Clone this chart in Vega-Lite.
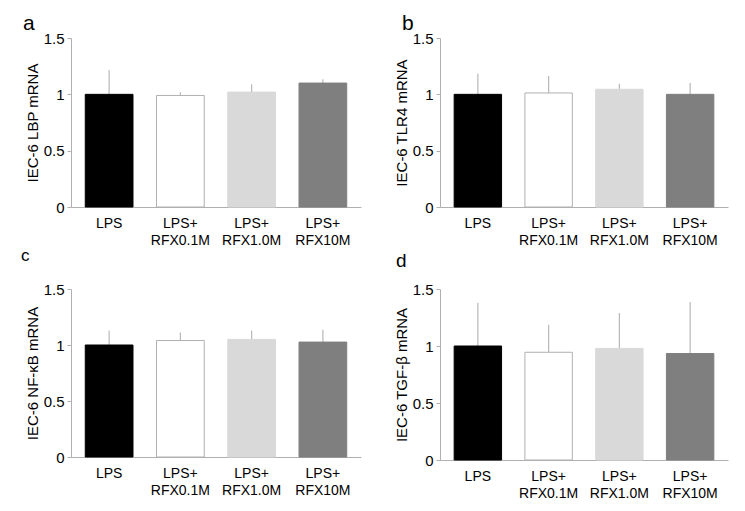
{
  "$schema": "https://vega.github.io/schema/vega-lite/v6.json",
  "padding": {"left": 21, "top": 13, "right": 5, "bottom": 5},
  "background": "white",
  "bounds": "flush",
  "spacing": {"row": 82, "column": 79},
  "config": {
    "font": "Liberation Sans",
    "view": {"stroke": null},
    "title": {"fontSize": 21, "fontWeight": "normal", "anchor": "start", "frame": "group", "color": "black", "offset": -3},
    "axisY": {"domainColor": "#b0b0b0", "tickColor": "#b0b0b0", "tickSize": 4, "labelFontSize": 15, "labelColor": "black", "titleFontSize": 15, "titleFontWeight": "normal", "titleColor": "black", "grid": false, "labelPadding": 3, "titlePadding": 3, "labelFlush": false},
    "axisX": {"domainColor": "#b0b0b0", "ticks": false, "labelFontSize": 14, "labelColor": "black", "labelAngle": 0, "labelPadding": 9, "title": null, "labelLineHeight": 17, "labelBaseline": "top"}
  },
  "datasets": {
    "a": [
      {"group": "LPS", "mean": 1.0, "upper": 1.213},
      {"group": "LPS+ RFX0.1M", "mean": 0.99, "upper": 1.019},
      {"group": "LPS+ RFX1.0M", "mean": 1.02, "upper": 1.09},
      {"group": "LPS+ RFX10M", "mean": 1.10, "upper": 1.134}
    ],
    "b": [
      {"group": "LPS", "mean": 1.0, "upper": 1.183},
      {"group": "LPS+ RFX0.1M", "mean": 1.012, "upper": 1.163},
      {"group": "LPS+ RFX1.0M", "mean": 1.045, "upper": 1.095},
      {"group": "LPS+ RFX10M", "mean": 1.0, "upper": 1.10}
    ],
    "c": [
      {"group": "LPS", "mean": 1.0, "upper": 1.13},
      {"group": "LPS+ RFX0.1M", "mean": 1.04, "upper": 1.112},
      {"group": "LPS+ RFX1.0M", "mean": 1.05, "upper": 1.13},
      {"group": "LPS+ RFX10M", "mean": 1.026, "upper": 1.136}
    ],
    "d": [
      {"group": "LPS", "mean": 1.0, "upper": 1.38},
      {"group": "LPS+ RFX0.1M", "mean": 0.945, "upper": 1.187},
      {"group": "LPS+ RFX1.0M", "mean": 0.979, "upper": 1.29},
      {"group": "LPS+ RFX10M", "mean": 0.934, "upper": 1.386}
    ]
  },
  "columns": 2,
  "concat": [
    {
      "title": {"text": "a", "dx": -48},
      "width": 290, "height": 169,
      "data": {"name": "a"},
      "encoding": {
        "x": {"field": "group", "type": "nominal", "sort": null, "scale": {"paddingInner": 0.33, "paddingOuter": 0.2}, "axis": {"labelExpr": "split(datum.label, ' ')"}},
        "y": {"field": "mean", "type": "quantitative", "scale": {"domain": [0, 1.5]}, "axis": {"title": "IEC-6 LBP mRNA", "values": [0, 0.5, 1, 1.5], "format": "~g"}}
      },
      "layer": [
        {"mark": {"type": "rule", "color": "#b8b8b8", "strokeWidth": 1.2}, "encoding": {"y2": {"field": "upper"}}},
        {"mark": {"type": "bar", "strokeWidth": 1},
         "encoding": {"fill": {"field": "group", "type": "nominal", "sort": null, "legend": null, "scale": {"range": ["#000000", "#ffffff", "#d9d9d9", "#7f7f7f"]}},
                      "stroke": {"field": "group", "type": "nominal", "sort": null, "legend": null, "scale": {"range": ["#000000", "#b0b0b0", "#d9d9d9", "#7f7f7f"]}}}}
      ]
    },
    {
      "title": {"text": "b", "dx": -38},
      "width": 288, "height": 169,
      "data": {"name": "b"},
      "encoding": {
        "x": {"field": "group", "type": "nominal", "sort": null, "scale": {"paddingInner": 0.33, "paddingOuter": 0.2}, "axis": {"labelExpr": "split(datum.label, ' ')"}},
        "y": {"field": "mean", "type": "quantitative", "scale": {"domain": [0, 1.5]}, "axis": {"title": "IEC-6 TLR4 mRNA", "values": [0, 0.5, 1, 1.5], "format": "~g"}}
      },
      "layer": [
        {"mark": {"type": "rule", "color": "#b8b8b8", "strokeWidth": 1.2}, "encoding": {"y2": {"field": "upper"}}},
        {"mark": {"type": "bar", "strokeWidth": 1},
         "encoding": {"fill": {"field": "group", "type": "nominal", "sort": null, "legend": null, "scale": {"range": ["#000000", "#ffffff", "#d9d9d9", "#7f7f7f"]}},
                      "stroke": {"field": "group", "type": "nominal", "sort": null, "legend": null, "scale": {"range": ["#000000", "#b0b0b0", "#d9d9d9", "#7f7f7f"]}}}}
      ]
    },
    {
      "title": {"text": "c", "dx": -50, "fontSize": 17, "offset": 17},
      "width": 290, "height": 168,
      "data": {"name": "c"},
      "encoding": {
        "x": {"field": "group", "type": "nominal", "sort": null, "scale": {"paddingInner": 0.33, "paddingOuter": 0.2}, "axis": {"labelExpr": "split(datum.label, ' ')"}},
        "y": {"field": "mean", "type": "quantitative", "scale": {"domain": [0, 1.5]}, "axis": {"title": "IEC-6 NF-κB mRNA", "values": [0, 0.5, 1, 1.5], "format": "~g"}}
      },
      "layer": [
        {"mark": {"type": "rule", "color": "#b8b8b8", "strokeWidth": 1.2}, "encoding": {"y2": {"field": "upper"}}},
        {"mark": {"type": "bar", "strokeWidth": 1},
         "encoding": {"fill": {"field": "group", "type": "nominal", "sort": null, "legend": null, "scale": {"range": ["#000000", "#ffffff", "#d9d9d9", "#7f7f7f"]}},
                      "stroke": {"field": "group", "type": "nominal", "sort": null, "legend": null, "scale": {"range": ["#000000", "#b0b0b0", "#d9d9d9", "#7f7f7f"]}}}}
      ]
    },
    {
      "title": {"text": "d", "dx": -44, "fontSize": 19, "offset": 11},
      "width": 288, "height": 171,
      "data": {"name": "d"},
      "encoding": {
        "x": {"field": "group", "type": "nominal", "sort": null, "scale": {"paddingInner": 0.33, "paddingOuter": 0.2}, "axis": {"labelExpr": "split(datum.label, ' ')"}},
        "y": {"field": "mean", "type": "quantitative", "scale": {"domain": [0, 1.5]}, "axis": {"title": "IEC-6 TGF-β mRNA", "values": [0, 0.5, 1, 1.5], "format": "~g"}}
      },
      "layer": [
        {"mark": {"type": "rule", "color": "#b8b8b8", "strokeWidth": 1.2}, "encoding": {"y2": {"field": "upper"}}},
        {"mark": {"type": "bar", "strokeWidth": 1},
         "encoding": {"fill": {"field": "group", "type": "nominal", "sort": null, "legend": null, "scale": {"range": ["#000000", "#ffffff", "#d9d9d9", "#7f7f7f"]}},
                      "stroke": {"field": "group", "type": "nominal", "sort": null, "legend": null, "scale": {"range": ["#000000", "#b0b0b0", "#d9d9d9", "#7f7f7f"]}}}}
      ]
    }
  ],
  "resolve": {"scale": {"fill": "independent", "stroke": "independent"}}
}
